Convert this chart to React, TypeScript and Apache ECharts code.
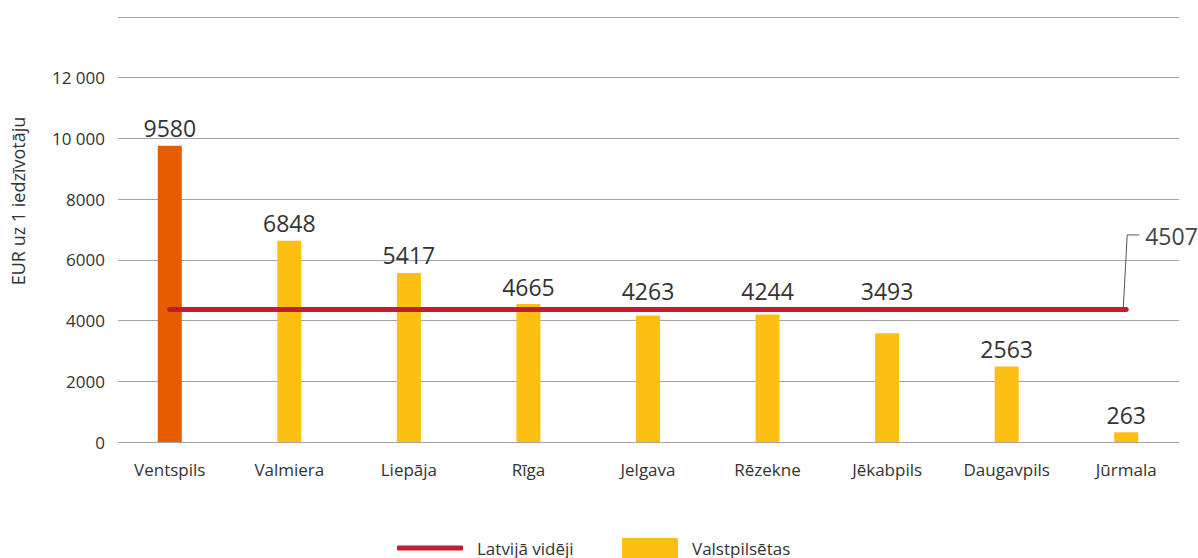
import React, { useEffect, useRef } from "react";
import * as echarts from "echarts";

const CATEGORIES = ["Ventspils", "Valmiera", "Liepāja", "Rīga", "Jelgava", "Rēzekne", "Jēkabpils", "Daugavpils", "Jūrmala"];
const BAR_VALUES = [9760, 6630, 5570, 4545, 4170, 4200, 3580, 2484, 320];
const LABEL_TEXTS = ["9580", "6848", "5417", "4665", "4263", "4244", "3493", "2563", "263"];
const AVERAGE_VALUE = 4384;
const AVERAGE_TEXT = "4507";
const Y_TICK_LABELS = ["0", "2000", "4000", "6000", "8000", "10 000", "12 000", ""];
const Y_MAX = 14000;
const Y_STEP = 2000;
const HIGHLIGHT_INDEX = 0;
const LABEL_CLEARANCE = 1200;

const FONT = "'Open Sans', 'Noto Sans', sans-serif";
const TEXT = "#333333";
const ORANGE = "#E65C00";
const YELLOW = "#FDC012";
const RED = "#C41B30";
const GRID_LINE = "#A6A6A6";

export default function App() {
  const ref = useRef<HTMLDivElement>(null);

  useEffect(() => {
    if (!ref.current) return;
    const chart = echarts.init(ref.current, undefined, { renderer: "svg" });

    const barData = BAR_VALUES.map((v, i) =>
      i === HIGHLIGHT_INDEX ? { value: v, itemStyle: { color: ORANGE } } : v
    );
    // labels of bars just under the average line are lifted above the line
    const labelAnchors = BAR_VALUES.map((v) =>
      v < AVERAGE_VALUE && AVERAGE_VALUE - v < LABEL_CLEARANCE ? AVERAGE_VALUE : v
    );

    const option: any = {
      animation: false,
      textStyle: { fontFamily: FONT },
      grid: [
        { left: 110, right: 12, top: 17, bottom: 116 },
        { left: 118, right: 19, top: 17, bottom: 116 },
      ],
      xAxis: [
        {
          type: "category",
          gridIndex: 0,
          data: CATEGORIES,
          axisLine: { show: false },
          axisTick: { show: false },
          axisLabel: { color: TEXT, fontSize: 17, margin: 19, fontFamily: FONT },
        },
        { type: "value", gridIndex: 1, min: 0, max: 1, show: false },
      ],
      yAxis: [
        { type: "value", gridIndex: 0, min: 0, max: Y_MAX, interval: Y_STEP, show: false },
        {
          type: "value",
          gridIndex: 1,
          min: 0,
          max: Y_MAX,
          interval: Y_STEP,
          axisLine: { show: false },
          axisTick: { show: false },
          axisLabel: {
            color: TEXT,
            fontSize: 17,
            margin: 13,
            fontFamily: FONT,
            formatter: (v: number) => Y_TICK_LABELS[Math.round(v / Y_STEP)] ?? "",
          },
          splitLine: { lineStyle: { color: GRID_LINE, width: 1 } },
        },
      ],
      legend: [
        {
          data: [{ name: "Latvijā vidēji", icon: "roundRect" }],
          left: 392,
          top: 534,
          itemWidth: 66,
          itemHeight: 5,
          selectedMode: false,
          textStyle: { color: TEXT, fontSize: 17, lineHeight: 18, fontFamily: FONT, padding: [0, 0, 0, 9] },
        },
        {
          data: [{ name: "Valstpilsētas", icon: "rect" }],
          left: 617,
          top: 533,
          itemWidth: 56,
          itemHeight: 20,
          selectedMode: false,
          textStyle: { color: TEXT, fontSize: 17, lineHeight: 18, fontFamily: FONT, padding: [0, 0, 0, 9] },
        },
      ],
      series: [
        {
          name: "Valstpilsētas",
          type: "bar",
          xAxisIndex: 0,
          yAxisIndex: 0,
          barWidth: 24,
          barGap: "-100%",
          itemStyle: { color: YELLOW },
          data: barData,
          silent: true,
        },
        {
          name: "labels",
          type: "bar",
          xAxisIndex: 0,
          yAxisIndex: 0,
          barWidth: 24,
          barGap: "-100%",
          itemStyle: { color: "rgba(0,0,0,0)" },
          data: labelAnchors,
          silent: true,
          z: 5,
          label: {
            show: true,
            position: "top",
            distance: 6,
            color: TEXT,
            fontSize: 23,
            fontFamily: FONT,
            formatter: (p: any) => LABEL_TEXTS[p.dataIndex],
          },
        },
        {
          name: "Latvijā vidēji",
          type: "line",
          xAxisIndex: 0,
          yAxisIndex: 0,
          data: [],
          itemStyle: { color: RED },
          lineStyle: { color: RED, width: 5 },
          showSymbol: false,
          markLine: {
            silent: true,
            symbol: ["none", "none"],
            label: { show: false },
            lineStyle: { color: RED, width: 5, type: "solid", cap: "round" },
            emphasis: { disabled: true },
            data: [[{ coord: [0, AVERAGE_VALUE] }, { coord: [CATEGORIES.length - 1, AVERAGE_VALUE] }]],
          },
        },
      ],
    };

    chart.setOption(option);

    const end = chart.convertToPixel({ xAxisIndex: 0, yAxisIndex: 0 }, [CATEGORIES.length - 1, AVERAGE_VALUE]) as number[];
    if (end) {
      const [px, py] = end;
      chart.setOption({
        graphic: [
          {
            type: "group",
            children: [
              {
                type: "text",
                rotation: Math.PI / 2,
                x: 18,
                y: 201,
                style: {
                  text: "EUR uz 1 iedzīvotāju",
                  fill: TEXT,
                  fontSize: 18,
                  fontFamily: FONT,
                  align: "center",
                  verticalAlign: "middle",
                },
              },
              {
                type: "polyline",
                shape: { points: [[px - 3, py], [px + 1, py - 74], [px + 13, py - 74]] },
                style: { stroke: "#555555", lineWidth: 1, fill: "none" },
              },
              {
                type: "text",
                x: px + 19,
                y: py - 73,
                style: {
                  text: AVERAGE_TEXT,
                  fill: "#444444",
                  fontSize: 23,
                  fontFamily: FONT,
                  align: "left",
                  verticalAlign: "middle",
                },
              },
            ],
          },
        ],
      });
    }

    return () => chart.dispose();
  }, []);

  return (
    <div
      ref={ref}
      style={{ position: "fixed", left: 0, top: 0, width: 1198, height: 558, background: "#ffffff" }}
    />
  );
}
